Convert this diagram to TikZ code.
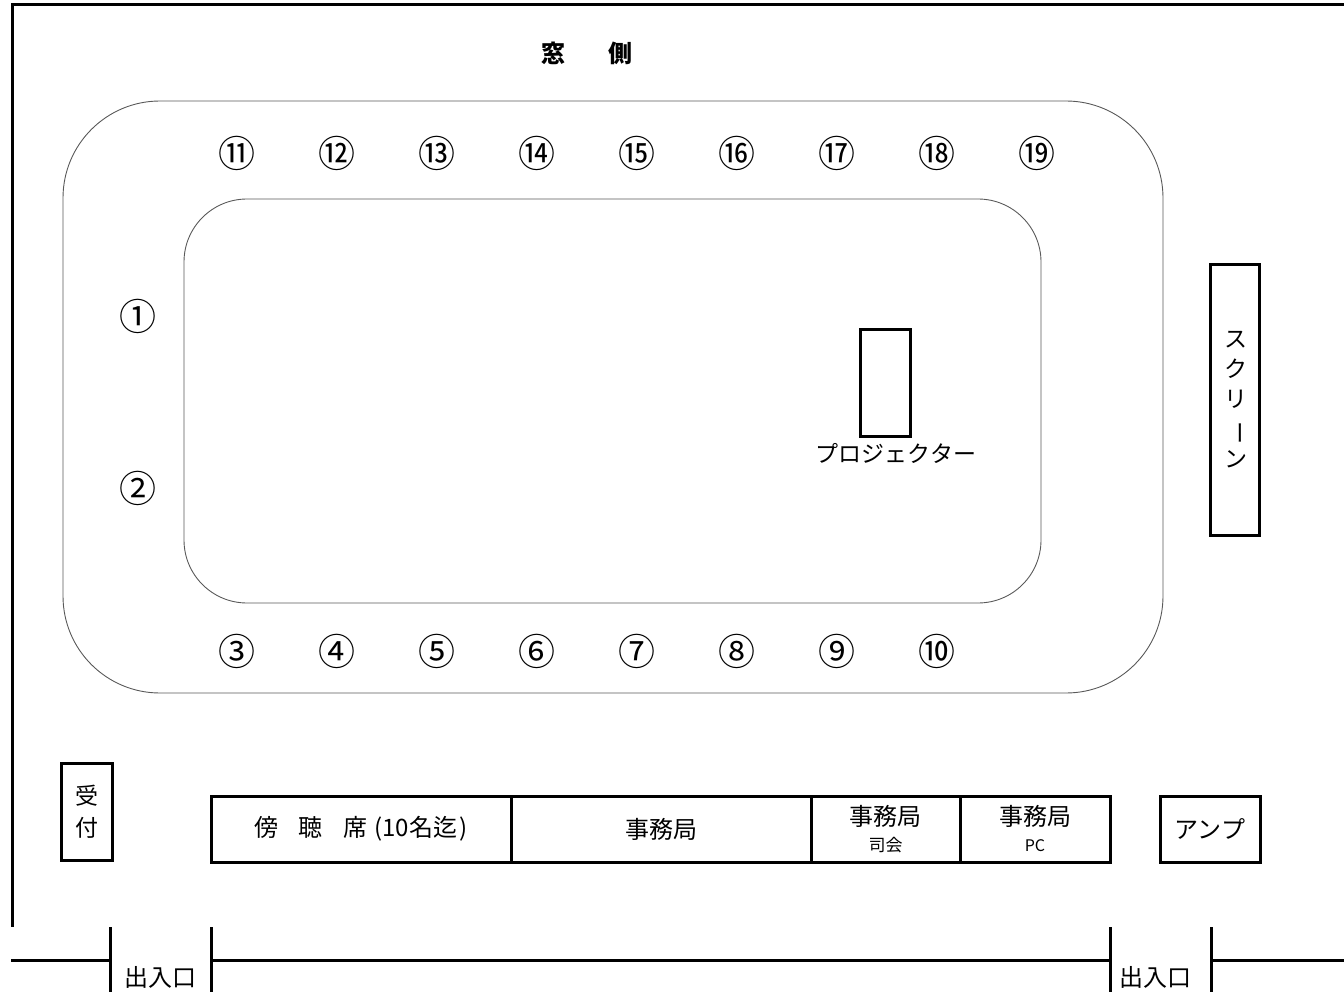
\documentclass[tikz,border=0pt]{standalone}
\usepackage{fontspec}
\usepackage{graphicx}
\setmainfont{Noto Sans CJK JP}
\begin{document}
\begin{tikzpicture}[x=1pt,y=-1pt,
  wall/.style={line width=3pt,line join=miter},
  box/.style={draw,line width=3pt,inner sep=0pt},
  ring/.style={line width=0.9pt,draw=black!65},
  seat/.style={font=\fontsize{37}{37}\selectfont,inner sep=0pt},
  lab/.style={font=\fontsize{23}{23}\selectfont,inner sep=0pt},
  big/.style={font=\fontsize{24}{26}\selectfont},
  two/.style={align=center,font=\fontsize{24}{26}\selectfont}]
\useasboundingbox (0,0) rectangle (1344,992);
% walls
\draw[wall] (1344,5) -- (12,5) -- (12,927);
\draw[wall] (11,960) -- (110,960);
\draw[wall] (211,960) -- (1110,960);
\draw[wall] (1211,960) -- (1344,960);
\draw[wall] (110,927) -- (110,992);
\draw[wall] (211,927) -- (211,992);
\draw[wall] (1110,927) -- (1110,992);
\draw[wall] (1211,927) -- (1211,992);
\node[lab,font=\fontsize{24}{24}\selectfont] (door1) at (160,977) {出入口};
\node[lab,font=\fontsize{24}{24}\selectfont] (door2) at (1155,977) {出入口};
% window side
\node[lab,font=\fontsize{24}{24}\selectfont\bfseries] (mado) at (553,53) {窓};
\node[lab,font=\fontsize{24}{24}\selectfont\bfseries] (gawa) at (620,53) {側};
% table
\draw[ring,rounded corners=97pt] (63,101) rectangle (1163,693);
\draw[ring,rounded corners=63pt] (184,199) rectangle (1041,603);
% seats
\foreach \n [count=\i from 0] in {⑪,⑫,⑬,⑭,⑮,⑯,⑰,⑱,⑲}
  \node[seat] (top\i) at (237+100*\i,153) {\n};
\foreach \n [count=\i from 0] in {③,④,⑤,⑥,⑦,⑧,⑨,⑩}
  \node[seat] (bot\i) at (237+100*\i,651) {\n};
\node[seat] (s1) at (138,316) {①};
\node[seat] (s2) at (138,488) {②};
% projector
\node[box,minimum width=50pt,minimum height=106pt] (proj) at (885,383) {};
\node[lab] (projlab) at (896,453) {プロジェクター};
% screen
\node[box,minimum width=49pt,minimum height=271pt] (screen) at (1235,400) {};
\node[lab,align=center,font=\fontsize{23}{30}\selectfont] (screenlab) at (1236,400)
  {ス\\ク\\リ\\\rotatebox[origin=c]{-90}{ー}\\ン};
% reception
\node[box,minimum width=51pt,minimum height=97pt,align=center,font=\fontsize{23}{32}\selectfont] (uke) at (86.5,812) {受\\付};
% desks
\node[box,minimum width=300pt,minimum height=66pt,big] (c1) at (361,829)
  {傍\hspace{0.85em}聴\hspace{0.85em}席\hspace{0.3em}(10名迄\hspace{0.1em})\hspace{0.2em}};
\node[box,minimum width=300pt,minimum height=66pt,big] (c2) at (661,829) {事務局};
\node[box,minimum width=149pt,minimum height=66pt,two] (c3) at (885.5,829)
  {事務局\\{\fontsize{17}{17}\selectfont 司会}};
\node[box,minimum width=150pt,minimum height=66pt,two] (c4) at (1035,829)
  {事務局\\{\fontsize{16}{16}\selectfont PC}};
\node[box,minimum width=100pt,minimum height=66pt,big] (amp) at (1210,829) {アンプ};
\end{tikzpicture}
\end{document}
